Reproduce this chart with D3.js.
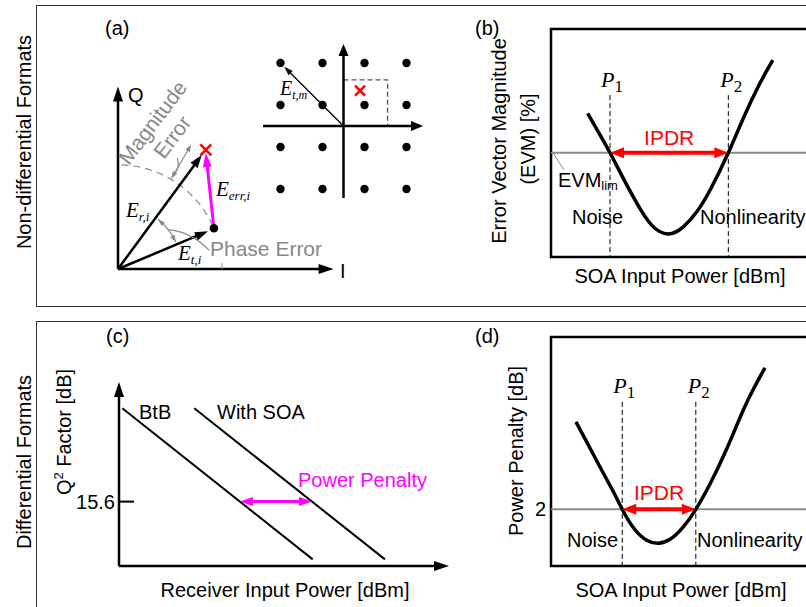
<!DOCTYPE html>
<html>
<head>
<meta charset="utf-8">
<script src="https://cdn.jsdelivr.net/npm/d3@7"></script>
<style>
body { margin: 0; background: #fff; }
text { font-family: "Liberation Sans", Arial, sans-serif; font-size: 20px; }
.it { font-family: "Liberation Serif", "Times New Roman", serif; font-style: italic; }
.sf { font-family: "Liberation Serif", "Times New Roman", serif; font-style: normal; }
</style>
</head>
<body>
<div id="fig"></div>
<script>
// ---- (a) IQ plane, arbitrary units
var txPoint = [4.36, 1.85];          // E_t,i
var rxPoint = [3.99, 5.41];          // E_r,i (received symbol)
var magErr = [59.5, 4.78, 6.55];     // angle (deg), r from, r to
var phaseErr = [2.9, 51, 25];        // radius, angle from, angle to
var iAxisLen = 9.8, qAxisLen = 8.29;

// constellation (16-QAM)
var qamLevels = [-3, -1, 1, 3];
var qamRx = [0.79, 1.68];
var decisionBox = [2.1, 2.2];
var refSymbol = [-3, 3];

// ---- (b) EVM vs SOA input power (arb. units)
var evmPower = [1.41, 1.88, 2.27, 2.78, 3.30, 3.87, 4.51, 5.09, 5.60, 6.12, 6.82, 7.40, 8.04, 8.53];
var evmValue = [6.30, 5.37, 4.57, 3.45, 2.36, 1.40, 1.01, 1.32, 1.97, 2.94, 4.57, 6.10, 7.63, 8.64];
var evmLim = 4.57, evmP = [2.27, 6.82];

// ---- (c) Q^2 factor vs receiver input power
var rxPower = [-31.8, -20.26];
var soaPower = [-27.44, -15.88];
var q2Value = [20.67, 12.46];
var q2Ref = 15.6;

// ---- (d) power penalty vs SOA input power
var ppPower = [0.96, 1.37, 1.88, 2.40, 2.74, 3.17, 3.68, 4.13, 4.58, 5.09, 5.57, 6.12, 6.76, 7.40, 7.85, 8.23];
var ppValue = [3.75, 3.35, 2.85, 2.35, 2.00, 1.63, 1.38, 1.32, 1.40, 1.65, 2.00, 2.51, 3.21, 3.99, 4.47, 4.83];
var ppLim = 2, ppP = [2.74, 5.57];

var W = 806, H = 607;
var svg = d3.select("#fig").append("svg").attr("width", W).attr("height", H);

function head(g, from, tip, len, wid, color) {
    var dx = tip[0] - from[0], dy = tip[1] - from[1], d = Math.hypot(dx, dy);
    var ux = dx / d, uy = dy / d;
    var bx = tip[0] - ux * len, by = tip[1] - uy * len;
    g.append("path")
        .attr("d", "M" + tip[0] + "," + tip[1] +
            "L" + (bx - uy * wid / 2) + "," + (by + ux * wid / 2) +
            "L" + (bx + uy * wid / 2) + "," + (by - ux * wid / 2) + "Z")
        .attr("fill", color);
    return [bx + ux, by + uy];
}
function arrow(g, p0, p1, o) {
    var e = head(g, p0, p1, o.len, o.wid, o.color);
    var s = o.both ? head(g, p1, p0, o.len, o.wid, o.color) : p0;
    g.append("line")
        .attr("x1", s[0]).attr("y1", s[1]).attr("x2", e[0]).attr("y2", e[1])
        .attr("stroke", o.color).attr("stroke-width", o.w);
}
function cross(g, p, r, color) {
    g.append("path")
        .attr("d", "M" + (p[0] - r) + "," + (p[1] - r) + "L" + (p[0] + r) + "," + (p[1] + r) +
            "M" + (p[0] - r) + "," + (p[1] + r) + "L" + (p[0] + r) + "," + (p[1] - r))
        .attr("stroke", color).attr("stroke-width", 2.5).attr("fill", "none");
}
function subLabel(g, x, y, main, sub, o) {
    var t = g.append("text").attr("x", x).attr("y", y).attr("class", o.cls)
        .style("font-size", o.size + "px").attr("fill", o.color || "#000");
    t.append("tspan").text(main);
    t.append("tspan").attr("dy", o.dy).attr("class", o.subCls || o.cls)
        .style("font-size", o.subSize + "px").text(sub);
    return t;
}

// outer frames
svg.append("rect").attr("x", 36.5).attr("y", 5.5).attr("width", 800).attr("height", 301)
    .attr("fill", "none").attr("stroke", "#333").attr("stroke-width", 1);
svg.append("rect").attr("x", 36.5).attr("y", 321.5).attr("width", 800).attr("height", 300)
    .attr("fill", "none").attr("stroke", "#333").attr("stroke-width", 1);

svg.append("text").attr("transform", "translate(31,142) rotate(-90)")
    .attr("text-anchor", "middle").text("Non-differential Formats");
svg.append("text").attr("transform", "translate(31,462) rotate(-90)")
    .attr("text-anchor", "middle").text("Differential Formats");

// ================= (a) =================
var ga = svg.append("g");
ga.append("text").attr("x", 105).attr("y", 35).text("(a)");

var ax = d3.scaleLinear().domain([0, 10]).range([118, 338]);
var ay = d3.scaleLinear().domain([0, 10]).range([269, 49]);
var P = function(p) { return [ax(p[0]), ay(p[1])]; };
var pol = function(r, deg) { var a = deg * Math.PI / 180; return [r * Math.cos(a), r * Math.sin(a)]; };
var pxPerUnit = ax(1) - ax(0);
var o0 = P([0, 0]);

// dashed arc |E_t|
var rT = Math.hypot(txPoint[0], txPoint[1]);
var aT = Math.atan2(txPoint[1], txPoint[0]);
var arcP = d3.path();
var aStart = -88 * Math.PI / 180;
arcP.moveTo(o0[0] + rT * pxPerUnit * Math.cos(aStart), o0[1] + rT * pxPerUnit * Math.sin(aStart));
arcP.arc(o0[0], o0[1], rT * pxPerUnit, aStart, -aT, false);
ga.append("path").attr("d", arcP.toString()).attr("fill", "none")
    .attr("stroke", "#888").attr("stroke-width", 1.2).attr("stroke-dasharray", "7,5");

// axes
arrow(ga, o0, P([0, qAxisLen]), {color: "#000", w: 2.5, len: 15, wid: 10});
arrow(ga, o0, P([iAxisLen, 0]), {color: "#000", w: 2.5, len: 15, wid: 10});
ga.append("text").attr("x", 128).attr("y", 102).text("Q");
ga.append("text").attr("x", 340).attr("y", 278).text("I");
ga.append("line").attr("x1", ax(4.73)).attr("x2", ax(4.73)).attr("y1", ay(0) - 6).attr("y2", ay(0))
    .attr("stroke", "#999").attr("stroke-width", 1);

// vectors
var rxPx = P(rxPoint), txPx = P(txPoint);
arrow(ga, o0, [rxPx[0] - 4, rxPx[1] + 5], {color: "#000", w: 2.5, len: 13, wid: 9});
arrow(ga, o0, [txPx[0] - 6, txPx[1] + 3], {color: "#000", w: 2.5, len: 13, wid: 9});
arrow(ga, txPx, [rxPx[0], rxPx[1] + 3], {color: "#ff00ff", w: 3, len: 14, wid: 9});
ga.append("circle").attr("cx", txPx[0]).attr("cy", txPx[1]).attr("r", 4.3).attr("fill", "#000");
cross(ga, rxPx, 5.5, "#ff0000");

// magnitude error
var m0 = P(pol(magErr[1], magErr[0])), m1 = P(pol(magErr[2], magErr[0]));
arrow(ga, m0, m1, {color: "#888", w: 1.2, len: 7, wid: 5, both: true});
ga.append("path").attr("d", "M" + ax(2.7) + "," + ay(5.05) + "Q" + ax(2.85) + "," + ay(4.5) + " " + m0[0] + "," + (m0[1] - 1))
    .attr("fill", "none").attr("stroke", "#888").attr("stroke-width", 1.2);
ga.append("text").attr("transform", "translate(129,166) rotate(-53)").attr("fill", "#888")
    .style("font-size", "21px").text("Magnitude");
ga.append("text").attr("transform", "translate(164,160) rotate(-53)").attr("fill", "#888")
    .style("font-size", "21px").text("Error");

// phase error
var pr = phaseErr[0] * pxPerUnit;
var pa0 = -phaseErr[1] * Math.PI / 180, pa1 = -phaseErr[2] * Math.PI / 180;
var ph = d3.path();
ph.moveTo(o0[0] + pr * Math.cos(pa0), o0[1] + pr * Math.sin(pa0));
ph.arc(o0[0], o0[1], pr, pa0, pa1, false);
ga.append("path").attr("d", ph.toString()).attr("fill", "none").attr("stroke", "#888").attr("stroke-width", 1.2);
var pe = function(a) { return [o0[0] + pr * Math.cos(a), o0[1] + pr * Math.sin(a)]; };
head(ga, pe(pa0 + 0.15), pe(pa0), 7, 5, "#888");
head(ga, pe(pa1 - 0.15), pe(pa1), 7, 5, "#888");
var pm = pe((pa0 + pa1) / 2);
ga.append("path").attr("d", "M" + pm[0] + "," + pm[1] + "Q" + ax(3.3) + "," + ay(1.7) + " " + ax(4.15) + "," + ay(0.85))
    .attr("fill", "none").attr("stroke", "#888").attr("stroke-width", 1.2);
ga.append("text").attr("x", 210).attr("y", 256).attr("fill", "#888").style("font-size", "21px").text("Phase Error");

subLabel(ga, 126, 217, "E", "r,i", {cls: "it", size: 21, subSize: 13, dy: 4});
subLabel(ga, 178, 260, "E", "t,i", {cls: "it", size: 21, subSize: 13, dy: 4});
subLabel(ga, 216, 196, "E", "err,i", {cls: "it", size: 21, subSize: 13, dy: 4});

// constellation
var cx = d3.scaleLinear().domain([-4, 4]).range([259.5, 427.5]);
var cy = d3.scaleLinear().domain([-4, 4]).range([210, 42]);
var qam = [];
qamLevels.forEach(function(i) { qamLevels.forEach(function(q) { qam.push([i, q]); }); });
ga.append("path")
    .attr("d", "M" + cx(0) + "," + cy(decisionBox[1]) + "H" + cx(decisionBox[0]) + "V" + cy(0))
    .attr("fill", "none").attr("stroke", "#555").attr("stroke-width", 1.3).attr("stroke-dasharray", "5,3");
arrow(ga, [cx(-3.83), cy(0)], [cx(3.79), cy(0)], {color: "#000", w: 2.5, len: 12, wid: 10});
arrow(ga, [cx(0), cy(-3.43)], [cx(0), cy(3.9)], {color: "#000", w: 2.5, len: 12, wid: 10});
ga.selectAll(".dot").data(qam).enter().append("circle")
    .attr("cx", function(d) { return cx(d[0]); })
    .attr("cy", function(d) { return cy(d[1]); })
    .attr("r", 4.2).attr("fill", "#000");
arrow(ga, [cx(0), cy(0)], [cx(refSymbol[0] * 0.94), cy(refSymbol[1] * 0.94)], {color: "#000", w: 1.3, len: 9, wid: 6});
cross(ga, [cx(qamRx[0]), cy(qamRx[1])], 5, "#ff0000");
subLabel(ga, 280, 95, "E", "t,m", {cls: "it", size: 20, subSize: 12, dy: 4});

// ================= (b) =================
var gb = svg.append("g");
gb.append("text").attr("x", 475).attr("y", 35).text("(b)");
var bx = d3.scaleLinear().domain([0, 10]).range([551, 811]);
var by = d3.scaleLinear().domain([0, 10]).range([257, 29]);
gb.append("rect").attr("x", bx(0)).attr("y", by(10)).attr("width", 300).attr("height", by(0) - by(10))
    .attr("fill", "none").attr("stroke", "#000").attr("stroke-width", 2.5);
gb.append("line").attr("x1", bx(0)).attr("x2", 830).attr("y1", by(evmLim)).attr("y2", by(evmLim))
    .attr("stroke", "#8c8c8c").attr("stroke-width", 2);
evmP.forEach(function(p) {
    gb.append("line").attr("x1", bx(p)).attr("x2", bx(p)).attr("y1", by(7.1)).attr("y2", by(0))
        .attr("stroke", "#000").attr("stroke-width", 1).attr("stroke-dasharray", "5,3");
});
var evmData = evmPower.map(function(p, i) { return [p, evmValue[i]]; });
gb.append("path").datum(evmData)
    .attr("d", d3.line().x(function(d) { return bx(d[0]); }).y(function(d) { return by(d[1]); })
        .curve(d3.curveNatural))
    .attr("fill", "none").attr("stroke", "#000").attr("stroke-width", 3.5);
arrow(gb, [bx(evmP[0]), by(evmLim)], [bx(evmP[1]), by(evmLim)], {color: "#ff0000", w: 4, len: 14, wid: 11, both: true});
gb.append("text").attr("x", (bx(evmP[0]) + bx(evmP[1])) / 2).attr("y", 145).attr("text-anchor", "middle")
    .attr("fill", "#ff0000").style("font-size", "21px").text("IPDR");
subLabel(gb, bx(evmP[0]) - 9, 87, "P", "1", {cls: "it", subCls: "sf", size: 22, subSize: 17, dy: 5});
subLabel(gb, bx(evmP[1]) - 8, 87, "P", "2", {cls: "it", subCls: "sf", size: 22, subSize: 17, dy: 5});
gb.append("line").attr("x1", 553).attr("y1", by(evmLim)).attr("x2", 564).attr("y2", 170)
    .attr("stroke", "#8c8c8c").attr("stroke-width", 1);
subLabel(gb, 558, 187, "EVM", "lim", {cls: "", size: 20, subSize: 13, dy: 3});
gb.append("text").attr("x", 572).attr("y", 224).text("Noise");
gb.append("text").attr("x", 700).attr("y", 224).text("Nonlinearity");
gb.append("text").attr("transform", "translate(506,141) rotate(-90)").attr("text-anchor", "middle")
    .text("Error Vector Magnitude");
gb.append("text").attr("transform", "translate(535,139) rotate(-90)").attr("text-anchor", "middle")
    .text("(EVM) [%]");
gb.append("text").attr("x", 680).attr("y", 283).attr("text-anchor", "middle").text("SOA Input Power [dBm]");

// ================= (c) =================
var gc = svg.append("g");
gc.append("text").attr("x", 106).attr("y", 343).text("(c)");
var xc = d3.scaleLinear().domain([-32, -12]).range([119, 449]);
var yc = d3.scaleLinear().domain([12.1, 22.1]).range([566, 382]);
arrow(gc, [xc(-32), yc(12.1)], [xc(-32), yc(22.1)], {color: "#000", w: 2.5, len: 15, wid: 10});
arrow(gc, [xc(-32), yc(12.1)], [xc(-12), yc(12.1)], {color: "#000", w: 2.5, len: 15, wid: 10});
var lineC = d3.line().x(function(d) { return xc(d[0]); }).y(function(d) { return yc(d[1]); });
gc.append("path").datum(rxPower.map(function(p, i) { return [p, q2Value[i]]; })).attr("d", lineC)
    .attr("fill", "none").attr("stroke", "#000").attr("stroke-width", 2);
gc.append("path").datum(soaPower.map(function(p, i) { return [p, q2Value[i]]; })).attr("d", lineC)
    .attr("fill", "none").attr("stroke", "#000").attr("stroke-width", 2);
gc.append("line").attr("x1", xc(-32)).attr("x2", xc(-32) + 15).attr("y1", yc(q2Ref)).attr("y2", yc(q2Ref))
    .attr("stroke", "#000").attr("stroke-width", 2);
gc.append("text").attr("x", 115).attr("y", yc(q2Ref) + 7).attr("text-anchor", "end").text(q2Ref.toFixed(1));
var atRef = function(px) {
    var t = (q2Value[0] - q2Ref) / (q2Value[0] - q2Value[1]);
    return px[0] + t * (px[1] - px[0]);
};
arrow(gc, [xc(atRef(rxPower)), yc(q2Ref)], [xc(atRef(soaPower)), yc(q2Ref)], {color: "#ff00ff", w: 3, len: 13, wid: 9, both: true});
gc.append("text").attr("x", 298).attr("y", 487).attr("fill", "#ff00ff").text("Power Penalty");
gc.append("text").attr("x", 139).attr("y", 419).text("BtB");
gc.append("text").attr("x", 217).attr("y", 419).text("With SOA");
var ql = gc.append("text").attr("transform", "translate(71,432) rotate(-90)").attr("text-anchor", "middle");
ql.append("tspan").text("Q");
ql.append("tspan").attr("dy", -8).style("font-size", "13px").text("2");
ql.append("tspan").attr("dy", 8).text(" Factor [dB]");
gc.append("text").attr("x", 285).attr("y", 597).attr("text-anchor", "middle").text("Receiver Input Power [dBm]");

// ================= (d) =================
var gd = svg.append("g");
gd.append("text").attr("x", 475).attr("y", 343).text("(d)");
var xd = d3.scaleLinear().domain([0, 10]).range([551, 811]);
var yd = d3.scaleLinear().domain([1, 5]).range([559.3, 359.3]);
gd.append("rect").attr("x", 551).attr("y", 337).attr("width", 300).attr("height", 229)
    .attr("fill", "none").attr("stroke", "#000").attr("stroke-width", 2.5);
gd.append("line").attr("x1", 551).attr("x2", 830).attr("y1", yd(ppLim)).attr("y2", yd(ppLim))
    .attr("stroke", "#8c8c8c").attr("stroke-width", 2);
ppP.forEach(function(p) {
    gd.append("line").attr("x1", xd(p)).attr("x2", xd(p)).attr("y1", yd(4.15)).attr("y2", 566)
        .attr("stroke", "#000").attr("stroke-width", 1).attr("stroke-dasharray", "5,3");
});
var ppData = ppPower.map(function(p, i) { return [p, ppValue[i]]; });
gd.append("path").datum(ppData)
    .attr("d", d3.line().x(function(d) { return xd(d[0]); }).y(function(d) { return yd(d[1]); })
        .curve(d3.curveNatural))
    .attr("fill", "none").attr("stroke", "#000").attr("stroke-width", 3.5);
arrow(gd, [xd(ppP[0]), yd(ppLim)], [xd(ppP[1]), yd(ppLim)], {color: "#ff0000", w: 4, len: 14, wid: 11, both: true});
gd.append("text").attr("x", (xd(ppP[0]) + xd(ppP[1])) / 2).attr("y", 500).attr("text-anchor", "middle")
    .attr("fill", "#ff0000").style("font-size", "21px").text("IPDR");
subLabel(gd, xd(ppP[0]) - 9, 393, "P", "1", {cls: "it", subCls: "sf", size: 22, subSize: 17, dy: 5});
subLabel(gd, xd(ppP[1]) - 8, 393, "P", "2", {cls: "it", subCls: "sf", size: 22, subSize: 17, dy: 5});
gd.append("text").attr("x", 546).attr("y", yd(ppLim) + 7).attr("text-anchor", "end").text(ppLim);
gd.append("text").attr("x", 567).attr("y", 547).text("Noise");
gd.append("text").attr("x", 697).attr("y", 547).text("Nonlinearity");
gd.append("text").attr("transform", "translate(523,451) rotate(-90)").attr("text-anchor", "middle")
    .text("Power Penalty [dB]");
gd.append("text").attr("x", 681).attr("y", 597).attr("text-anchor", "middle").text("SOA Input Power [dBm]");
</script>
</body>
</html>
